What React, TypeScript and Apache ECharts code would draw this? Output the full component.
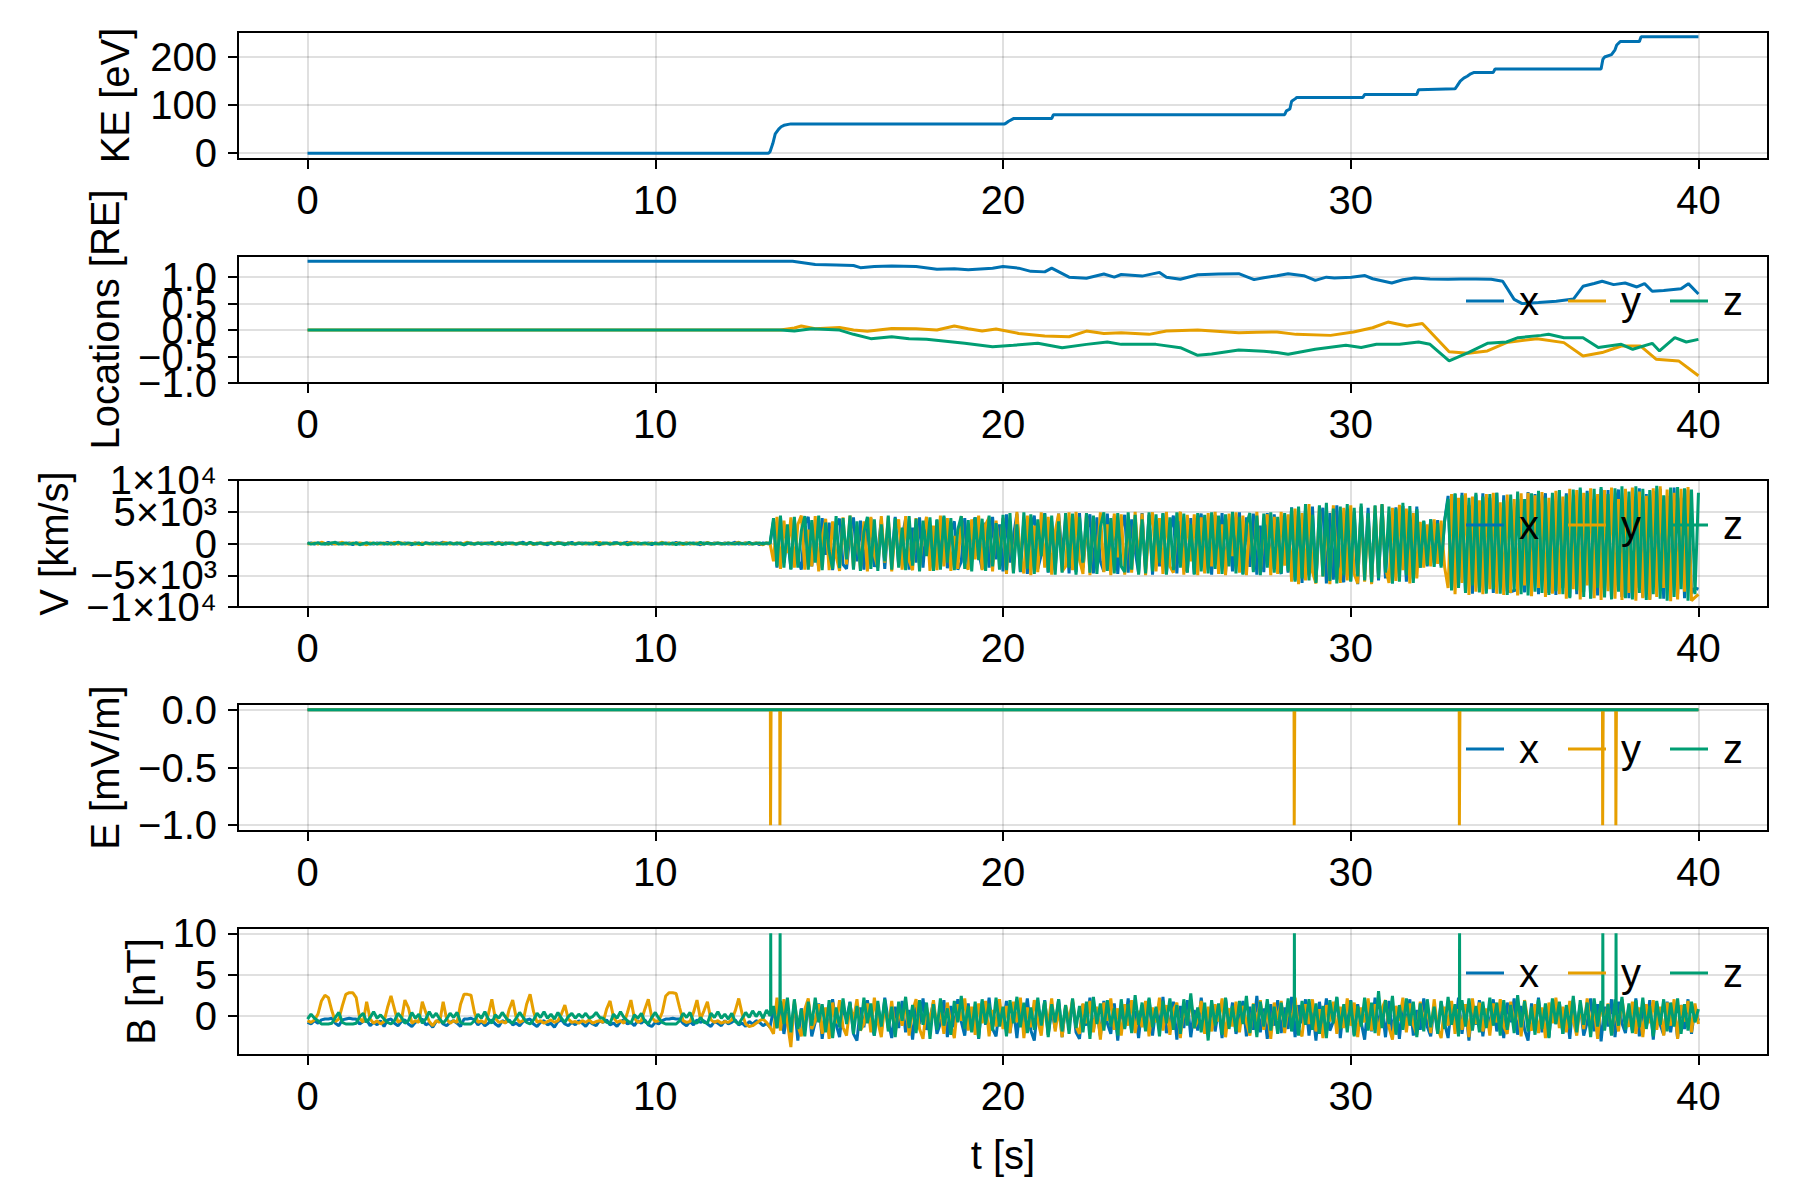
import { useEffect, useRef } from 'react';
import * as echarts from 'echarts';

const FONT = 'Liberation Sans';
const BLUE = '#0072b2';
const ORANGE = '#e69f00';
const GREEN = '#009e73';

// time axis
const T_TICKS = [0, 10, 20, 30, 40];
const T_MIN = -2;
const T_MAX = 42;
const DT = 0.1; // sampling step of the V and B traces [s]

// kinetic energy [eV] (step trace)
const KE_T = [0, 13.25, 13.3, 13.38, 13.45, 13.55, 13.62, 13.7, 13.9, 20.05, 20.1, 20.15, 20.3, 21.4, 21.45, 28.1, 28.15, 28.25, 28.3, 28.4, 28.45, 30.35, 30.4, 31.9, 31.95, 33.0, 33.05, 33.15, 33.25, 33.35, 33.45, 33.55, 34.1, 34.15, 37.2, 37.25, 37.3, 37.5, 37.6, 37.65, 37.75, 38.3, 38.35, 40];
const KE_V = [0, 0, 3, 20, 40, 50, 55, 58, 61, 61, 63, 66, 72, 72, 80, 80, 88, 92, 108, 113, 116, 116, 122, 122, 132, 134, 139, 150, 156, 160, 165, 168, 168, 175, 175, 195, 200, 205, 215, 225, 232, 232, 242, 242];

// locations [RE] as [t, value]
const LOC_X = [[0, 1.3], [13.95, 1.3], [14.6, 1.24], [15.2, 1.23], [15.7, 1.22], [15.9, 1.18], [16.3, 1.2], [16.8, 1.21], [17.5, 1.2], [18.1, 1.15], [18.6, 1.16], [19.0, 1.14], [19.7, 1.17], [20.0, 1.2], [20.45, 1.17], [20.8, 1.11], [21.2, 1.1], [21.4, 1.17], [21.9, 1.0], [22.4, 0.98], [22.9, 1.06], [23.2, 1.0], [23.4, 1.05], [24.0, 1.02], [24.5, 1.09], [24.7, 1.0], [25.1, 0.96], [25.6, 1.047], [26.2, 1.06], [26.78, 1.066], [27.22, 0.953], [27.5, 0.99], [27.88, 1.028], [28.2, 1.066], [28.65, 1.028], [28.98, 0.94], [29.3, 1.0], [29.53, 0.984], [30.02, 1.0], [30.41, 1.03], [30.63, 0.97], [31.18, 0.89], [31.5, 0.95], [31.84, 0.984], [32.28, 0.965], [32.8, 0.96], [33.16, 0.965], [33.6, 0.965], [34.04, 0.96], [34.37, 0.922], [34.7, 0.58], [34.93, 0.5], [35.4, 0.52], [35.91, 0.545], [36.41, 0.589], [36.68, 0.827], [37.0, 0.88], [37.23, 0.922], [37.56, 0.859], [37.89, 0.89], [38.23, 0.815], [38.45, 0.877], [38.67, 0.733], [39.0, 0.75], [39.21, 0.764], [39.5, 0.78], [39.71, 0.877], [40.0, 0.683]];
const LOC_Y = [[0, 0], [13.6, 0], [14.0, 0.04], [14.2, 0.076], [14.6, 0.026], [15.3, 0.05], [15.7, 0.0], [16.1, -0.02], [16.8, 0.03], [17.5, 0.026], [18.1, 0.0], [18.6, 0.076], [19.0, 0.026], [19.4, -0.019], [19.8, 0.02], [20.45, -0.063], [21.2, -0.112], [21.9, -0.125], [22.4, -0.019], [22.9, -0.063], [23.4, -0.05], [24.2, -0.081], [24.7, -0.019], [25.6, 0.0], [26.78, -0.05], [27.3, -0.04], [27.88, -0.037], [28.43, -0.081], [29.42, -0.1], [30.08, -0.037], [30.63, 0.044], [31.07, 0.151], [31.62, 0.076], [32.06, 0.126], [32.83, -0.41], [33.38, -0.438], [33.93, -0.394], [34.48, -0.237], [35.36, -0.162], [36.13, -0.237], [36.68, -0.488], [37.23, -0.425], [37.78, -0.3], [38.33, -0.3], [38.78, -0.55], [39.43, -0.582], [40.0, -0.864]];
const LOC_Z = [[0, 0], [13.6, 0], [14.0, -0.019], [14.5, 0.026], [15.3, 0.0], [15.7, -0.08], [16.2, -0.162], [16.8, -0.124], [17.3, -0.162], [17.8, -0.175], [18.9, -0.25], [19.7, -0.313], [20.3, -0.288], [21.0, -0.25], [21.7, -0.332], [22.4, -0.27], [23.0, -0.225], [23.4, -0.27], [24.4, -0.27], [25.1, -0.332], [25.6, -0.476], [26.0, -0.45], [26.78, -0.375], [27.5, -0.4], [27.88, -0.425], [28.2, -0.457], [28.98, -0.363], [29.86, -0.287], [30.3, -0.33], [30.74, -0.268], [31.4, -0.268], [31.95, -0.225], [32.28, -0.268], [32.83, -0.582], [33.38, -0.425], [33.93, -0.25], [34.48, -0.225], [34.81, -0.144], [35.47, -0.1], [35.69, -0.08], [36.13, -0.144], [36.68, -0.144], [37.12, -0.33], [37.78, -0.268], [38.11, -0.363], [38.67, -0.25], [38.88, -0.394], [39.32, -0.144], [39.65, -0.225], [40.0, -0.175]];

// velocity [100 km/s], one value every DT from t = 0, 20 values (2 s) per row
const V_X = [
  0, 1, -1, 1, 0, -1, 2, -1, 0, 1, -1, 0, 1, -2, 1, 0, -1, 1, 0, -1,
  1, 0, -1, 2, -1, 0, 1, -1, 1, 0, -2, 1, 0, -1, 1, 0, 1, -1, 0, 2,
  -1, 1, 0, -1, 1, -2, 0, 1, -1, 0, 1, 0, -1, 2, -1, 0, 1, -1, 1, 0,
  -1, 0, 2, -1, 1, 0, -1, 1, 0, -2, 1, -1, 0, 1, 0, -1, 2, -1, 0, 1,
  0, -1, 1, 0, -2, 1, 0, -1, 1, 1, -1, 0, 2, -1, 0, 1, -1, 0, 1, -2,
  1, 0, -1, 1, 0, -1, 2, -1, 0, 1, -1, 1, 0, -2, 1, 0, -1, 1, 0, -1,
  1, -1, 0, 2, -1, 0, 1, -1, 0, 1, -2, 1, 0, -1, 35, -38, 41, -30, 12, -40,
  38, -25, -41, 30, 42, -36, 8, -39, 40, -18, 33, -42, 27, 39, -33, -40, 15, 41, -28, 36,
  -41, 22, 40, -37, -12, 38, -40, 31, -26, 42, -35, 10, 39, -41, 25, -30, 41, -38, 34, -8,
  -40, 37, -22, 42, -39, 18, 35, -41, -29, 40, -36, 28, 41, -14, -40, 33, -38, 42, -25, 30,
  -44, 46, -30, 12, 47, -45, 38, -48, 25, 44, -40, -18, 48, -46, 35, -42, 47, -20, 40, -47,
  30, -45, 48, -38, 16, 46, -47, 41, -28, -44, 47, -35, 43, -48, 22, 45, -46, 38, -12, -47,
  48, -40, 45, -49, 30, -36, 47, -48, 20, 44, -47, 49, -33, -45, 40, -48, 26, 47, -42, 36,
  -49, 45, -25, 48, -46, 38, -44, 15, 49, -48, 41, -37, 47, -49, 28, -45, 48, -40, 46, -30,
  -48, 44, -46, 57, -58, 40, -62, 55, -50, 58, -60, 32, 56, -63, 48, -57, 60, -44, -61, 54,
  -59, 50, -64, 58, -40, 56, -62, 45, -58, 60, -55, 38, -63, 57, -48, 59, -60, 30, -56, 58,
  -38, 35, -36, 38, -30, 37, -35, 36, 75, -72, 78, -68, 80, -76, 60, -79, 77, -70, 79, -75,
  72, -78, 80, -60, 76, -75, -76, -74, -73, 70, -77, 81, -70, 78, -80, 55, 79, -78, 74, -81,
  82, -70, 79, -84, 65, -80, 85, -76, 83, -86, 70, -82, 86, -75, 84, -87, 60, 85, -84, 80,
  -86, 84, -70, 87, -85, 78, -88, 83, -60, 86, -87, 75, -84, 88, -80, 72, -86, 85, -78, -70,
  -72,
];
const V_Y = [
  -1, 0, 1, -1, 2, 0, -1, 1, -1, 0, 2, -1, 0, 1, -1, 1, 0, -2, 1, 0,
  0, -1, 1, 0, -1, 2, -1, 1, 0, -1, 0, 1, -2, 1, 0, -1, 1, 0, -1, 1,
  1, -1, 0, 1, -1, 0, 2, -1, 0, 1, -1, 1, 0, -1, 0, 2, -1, 1, 0, -1,
  0, 1, -1, 0, 1, -2, 1, 0, -1, 1, 0, -1, 2, 0, -1, 1, -1, 0, 1, 0,
  -1, 1, 0, -1, 2, -1, 0, 1, -1, 0, 1, -1, 0, 2, -1, 1, 0, -1, 0, 1,
  -1, 0, 2, -1, 1, -1, 0, 1, -2, 1, 0, -1, 1, 0, -1, 2, -1, 0, 1, -1,
  0, 1, -1, 0, 2, -1, 1, 0, -1, 1, 0, -2, 1, 0, -28, 42, -40, 36, -15, 41,
  -38, 30, 44, -41, 22, -36, 43, -44, 10, 39, -42, 35, -20, -43, 41, -33, 44, -38, 26, -40,
  35, -44, 42, -18, -38, 43, -30, 41, -44, 20, 38, -41, 43, -27, -42, 40, -35, 15, 42, -43,
  28, -42, 44, -36, 40, -43, 12, -40, 43, -32, -41, 38, -25, 44, -42, 30, 41, -44, 36, -20,
  40, -48, 35, -46, 50, -20, -47, 44, -50, 28, -45, 49, -38, 42, -49, 18, 47, -44, -36, 49,
  -42, 50, -26, -48, 46, -50, 40, -33, 49, -45, 30, -50, 47, -22, 46, -49, 38, -46, 50, -30,
  47, -50, 22, 49, -44, 40, -48, 50, -36, -46, 32, 50, -49, 45, -28, 46, -50, 41, -47, 48,
  -36, 50, -48, 30, -50, 47, -20, 49, -46, 44, -50, 35, -42, 50, -47, 25, 46, -50, 42, -48,
  50, -35, 46, -60, 55, -64, 48, -58, 62, -45, -63, 59, -52, 40, -64, 60, -30, -62, 56, -58,
  60, -48, -63, 57, -60, 40, -64, 59, -50, 62, -38, -62, 56, -59, 61, -42, 55, -63, 48, -55,
  34, -38, 30, -36, 38, -32, 36, -37, -70, 78, -80, 72, -62, 79, -81, 74, -76, 68, -80, 78,
  -72, 80, -79, 65, -81, 77, -78, 70, -82, 79, -66, 80, -83, 76, -70, 81, -84, 72, -79, 83,
  -80, 74, -87, 86, -72, 84, -88, 80, -66, 87, -86, 78, -89, 84, -75, 88, -87, 70, -89, 86,
  -78, 88, -90, 82, -86, 75, -89, 87, -84, 90, -70, 85, -91, 80, -88, 86, -76, 89, -90, -85,
  -80,
];
const V_Z = [
  1, -1, 0, 1, -1, 0, -1, 1, 2, -1, 0, 1, -1, 0, 1, -2, 0, 1, -1, 1,
  -1, 1, 0, -1, 1, -1, 2, 0, -1, 1, 0, -1, 1, -2, 1, 0, -1, 1, 0, -1,
  0, 1, -1, 1, 0, -2, 1, 0, -1, 1, -1, 0, 1, 0, -1, 1, -2, 1, 0, 1,
  -1, 1, 0, -1, 2, -1, 0, 1, -1, 0, 1, -1, 1, 0, -2, 1, 0, -1, 1, -1,
  1, 0, -1, 2, -1, 0, 1, -1, 0, 1, -1, 1, -2, 0, 1, -1, 0, 1, -1, 0,
  0, -1, 1, 0, -1, 1, -2, 1, 0, -1, 1, 0, -1, 2, -1, 1, 0, -1, 1, 0,
  -1, 1, 0, -1, 1, 0, -1, 2, -1, 0, 1, -1, 1, 0, 40, -36, 44, -38, 30, -41,
  42, -38, 20, 43, -41, 37, -30, 44, -42, 33, -12, -40, 43, -39, 40, -25, 44, -41, 35, -43,
  18, 42, -40, 38, -43, 30, -28, 44, -41, 40, -38, 25, -42, 43, -35, 39, -44, 36, -20, 41,
  -43, 38, -41, 44, -30, 40, -42, 22, 43, -40, 37, -44, 41, -26, 39, -43, 44, -36, 32, -41,
  45, -42, 48, -47, 30, -44, 49, -40, 46, -48, 38, -20, 47, -45, 44, -49, 35, -46, 48, -38,
  47, -49, 42, -30, 48, -46, 44, -48, 26, 49, -43, 40, -47, 48, -36, -45, 49, -41, 45, -49,
  38, -47, 49, -44, 46, -30, 48, -49, 41, -42, 49, -38, 47, -46, 30, -49, 48, -44, 45, -47,
  49, -40, 44, -48, 46, -36, 50, -47, 42, -49, 30, 48, -45, 44, -50, 47, -38, 49, -46, 42,
  -47, 48, -44, 56, -60, 58, -55, 62, -58, 45, -62, 60, -52, 64, -59, 55, -63, 58, -50, 62,
  -60, 56, -52, 63, -58, 48, -61, 60, -55, 62, -46, 58, -63, 55, -60, 64, -50, 59, -62, 54,
  -38, 36, -34, 38, -37, 32, -38, 35, 70, -74, 79, -70, 76, -78, 72, -66, 80, -77, 74, -79,
  78, -72, 80, -79, 68, -81, 77, -74, 82, -80, 70, -82, 79, -76, 83, -78, 72, -81, 80, -75,
  84, -80, 76, -86, 85, -74, 88, -84, 80, -87, 86, -70, 89, -85, 78, -88, 87, -76, 90, -86,
  82, -88, 90, -78, 86, -89, 84, -80, 91, -87, 76, -90, 88, -84, 89, -72, 87, -90, 85, -80,
  80,
];

// electric field [mV/m] as [t, value]
const E_X = [[0, 0], [40, 0]];
const E_Y = [[0, 0], [13.31, 0], [13.315, -1], [13.325, -1], [13.33, 0], [13.58, 0], [13.585, -1], [13.595, -1], [13.6, 0], [28.37, 0], [28.375, -1], [28.385, -1], [28.39, 0], [33.12, 0], [33.125, -1], [33.135, -1], [33.14, 0], [37.24, 0], [37.245, -1], [37.255, -1], [37.26, 0], [37.62, 0], [37.625, -1], [37.635, -1], [37.64, 0], [40, 0]];
const E_Z = [[0, 0], [40, 0]];

// magnetic field [0.1 nT], one value every DT from t = 0, 20 values (2 s) per row
const B_X = [
  -8, -10, -6, -9, -5, -4, -4, -3, -9, -12, -5, -4, -3, -4, -4, -10, -7, -5, -12, -8,
  -11, -6, -13, -5, -4, -9, -12, -7, -5, -10, -13, -8, -6, -4, -11, -9, -14, -7, -5, -10,
  -12, -8, -6, -9, -13, -4, -4, -3, -5, -11, -7, -12, -9, -5, -10, -13, -6, -8, -5, -11,
  -9, -12, -7, -5, -4, -10, -13, -8, -6, -11, -9, -14, -7, -5, -10, -12, -8, -11, -6, -9,
  -13, -7, -10, -12, -6, -8, -5, -11, -9, -13, -7, -5, -10, -8, -12, -6, -9, -5, -11, -13,
  -8, -10, -6, -4, -4, -3, -4, -4, -9, -12, -7, -11, -5, -8, -6, -10, -13, -7, -9, -12,
  -6, -10, -8, -5, -11, -9, -13, -7, -10, -6, -8, -12, -9, -14, 8, -15, 12, -22, 5, -18,
  14, -30, 9, -12, 18, -25, -8, 15, -28, 6, -16, 20, -10, -26, 12, -5, 17, -22, -30, 10,
  -14, 19, -8, -24, 13, -18, 22, -6, -27, 11, -15, 18, -20, 7, -29, 14, -10, 21, -17, -3,
  16, -22, -9, 19, -26, 12, -14, 20, -7, -24, 15, -19, 8, -28, 17, -11, 22, -16, -25, 10,
  -12, 18, -21, 9, -27, 16, -8, 21, -18, -30, 13, -10, 19, -23, 6, -15, 20, -26, 11, -9,
  17, -20, -28, 14, -12, 22, -17, 8, -25, 18, -9, -22, 15, -30, 10, -14, 21, -19, 6, -27,
  13, -16, 20, -24, 9, -11, 23, -21, -8, 17, -29, 12, -15, 19, -26, 7, -18, 22, -10, -23,
  15, -19, 8, -27, 21, -13, 16, -22, -6, 18, -25, 11, -17, 24, -20, 9, -28, 14, -12, 19,
  -21, 10, -16, 23, -26, 13, -9, 20, -24, 8, -30, 17, -14, 21, -18, -7, 22, -27, 12, -11,
  19, -23, 14, -8, -29, 16, -19, 22, -12, 9, -26, 18, -21, 11, -28, 15, -10, 20, -24, 7,
  -17, 21, -13, -25, 12, -20, 17, -9, -27, 14, -16, 22, -22, 10, -30, 13, -11, 19, -25, 8,
  -14, 20, -19, 11, -27, 16, -8, 21, -23, 12, -17, -30, 15, -12, 22, -20, 9, -26, 18, -10,
  16, -22, 10, -28, 19, -15, 13, -24, -8, 21, -19, 14, -31, 11, -13, 20, -26, 17, -9, -21,
  12, -18, 21, -25, 8, -14, 19, -29, 15, -11, -23, 17, -20, 10, -27, 13, -16, 20, -22, 9,
  -6,
];
const B_Y = [
  -6, -8, -5, 2, 18, 25, 22, 6, -7, -4, 12, 26, 28, 28, 22, -3, -8, 17, -4, -9,
  -6, -10, -7, 10, 24, 8, -8, -5, 19, 10, -9, -6, -8, 17, 4, -7, -12, -6, -8, 17,
  -4, -9, -6, -8, 14, 26, 26, 25, 4, -8, -6, -9, 2, 20, -3, -8, -7, -9, 8, 19,
  -2, -8, -6, 14, 26, 5, -8, -6, -9, -7, -5, -8, -6, 2, 13, -4, -8, -7, -9, -6,
  -8, -5, -9, -7, -6, -8, 8, 18, -2, -8, -6, -9, 4, 19, -3, -8, -6, 8, 20, -2,
  -7, -6, 4, 24, 28, 28, 27, 10, -6, -8, -7, 4, 19, -4, 6, 17, -5, -8, -6, -9,
  -7, -8, -5, 6, 21, 2, -10, -13, -12, -9, -6, -4, -8, -14, -22, 22, -18, 20, -8, -38,
  18, -12, -25, 8, 21, -16, -6, 14, -22, 10, -28, 16, -9, 19, -14, -24, 12, -5, 20, -18,
  -10, 15, -20, 22, -7, -26, 13, -15, 18, -21, 9, -12, 17, -24, 6, 20, -16, -28, 11, -8,
  19, -14, 8, -22, 16, -10, -27, 14, -6, 21, -18, 11, -23, 15, -9, 18, -25, 7, -13, 20,
  -16, 12, -21, 17, -8, 22, -27, 10, -14, 19, -5, -24, 16, -11, 21, -19, 8, -26, 13, -7,
  20, -13, -22, 15, -9, 18, -20, 11, -29, 16, -6, 21, -17, 9, -24, 14, -12, 19, -21, 6,
  -14, 18, -25, 10, -8, 22, -18, 13, -23, 7, 16, -27, 12, -10, 20, -15, -6, 18, -22, 11,
  -19, 14, -7, 21, -26, 9, -13, 17, -20, 12, -8, -24, 15, -11, 19, -17, 10, -28, 16, -5,
  18, -21, 12, -9, 22, -16, -25, 14, -10, 20, -19, 8, -27, 13, -7, 17, -22, 11, -15, 21,
  -12, 16, -26, 10, -8, 21, -18, 14, -24, 9, 19, -14, -29, 12, -6, 22, -20, 15, -11, -23,
  17, -9, 13, -21, 20, -15, -27, 11, -12, 18, -22, 8, -17, 14, -26, 21, -10, 16, -19, 9,
  -24, 15, -8, 20, -13, -22, 17, -11, 12, -25, 19, -7, -18, 14, -21, 10, -27, 16, -9, 22,
  -15, 11, -20, 18, -6, -24, 13, -16, 21, -12, 9, -28, 17, -10, 15, -23, 12, -19, 20, -8,
  -13, 17, -22, 10, -26, 14, -9, 19, -17, 11, -24, 16, -12, 20, -28, 13, -7, 18, -20, 15,
  -10,
];
const B_Z = [
  -4, 2, -3, -6, -10, -10, -10, -9, -2, 4, -8, -10, -10, -10, -9, -1, 3, -8, -2, 5,
  -3, 1, -4, -8, -10, -6, 3, -2, -9, -6, 4, -3, 2, -9, -4, 5, -2, 3, -4, -9,
  -4, 3, -2, 4, -8, -10, -10, -10, -6, 2, -3, 5, -4, -9, 1, -3, 4, -2, -7, -9,
  -3, 4, -2, -8, -10, -5, 3, -2, 5, -3, 2, -4, 4, -3, -8, -1, 3, -3, 2, -2,
  3, -3, -1, 4, -2, -3, -8, -9, 2, -3, 5, -2, -6, -9, 1, -3, 3, -7, -10, -2,
  4, -3, -8, -10, -10, -10, -10, -6, 3, -2, 4, -7, -9, -2, -8, -9, 3, -2, 5, -3,
  2, -4, 3, -7, -10, -3, 4, -2, 6, -1, 5, -3, 7, 0, 12, -15, 18, -10, 22, -20,
  20, -16, 8, -25, 17, -12, 22, -8, 14, -20, 19, -27, 10, -14, 21, -10, 16, -22, 12, -18,
  22, -9, 15, -24, 18, -13, 20, -19, 11, -26, 17, -6, 23, -15, 13, -21, 19, -11, 16, -28,
  14, -17, 21, -12, 9, -23, 18, -8, 24, -16, 12, -20, 17, -27, 20, -10, 15, -18, 22, -13,
  11, -25, 19, -9, 23, -14, 16, -21, 10, -17, 22, -12, 18, -26, 14, -8, 20, -19, 13, -22,
  21, -15, 12, -20, 17, -28, 23, -10, 15, -18, 19, -13, 9, -24, 20, -16, 14, -21, 25, -11,
  16, -19, 22, -14, 11, -25, 18, -9, 21, -17, 13, -22, 20, -12, 27, -15, 10, -20, 16, -30,
  19, -12, 15, -23, 22, -16, 12, -19, 18, -10, 24, -21, 14, -26, 17, -13, 20, -18, 11, -22,
  16, -14, 21, -19, 13, -24, 18, -11, 20, -17, 15, -22, 12, -27, 19, -9, 23, -16, 14, -20,
  18, -25, 12, -13, 22, -18, 16, -21, 30, -15, 19, -10, 24, -23, 13, -17, 21, -12, 17, -26,
  15, -19, 20, -14, 11, -22, 18, -16, 23, -11, 14, -25, 19, -13, 21, -18, 12, -20, 17, -15,
  22, -12, 16, -24, 19, -17, 13, -21, 25, -14, 18, -19, 11, -23, 20, -16, 15, -27, 21, -10,
  17, -22, 13, -15, 24, -20, 19, -11, 16, -26, 21, -13, 18, -18, 14, -24, 20, -12, 23, -17,
  15, -21, 19, -14, 22, -16, 12, -25, 18, -11, 20, -19, 16, -13, 21, -22, 14, -18, 17, -8,
  8,
];
// narrow spikes of B_z [t, nT]
const B_Z_SPIKES = [[13.315, 0.1], [13.32, 10], [13.325, 0.1], [13.585, 1.5], [13.59, 10], [13.595, 1.5], [28.375, 0.5], [28.38, 10], [28.385, 0.5], [33.125, 0.5], [33.13, 10], [33.135, 0.5], [37.245, 0.5], [37.25, 10], [37.255, 0.5], [37.625, 0.5], [37.63, 10], [37.635, 0.5]];

const GRID_LEFT = 238;
const GRID_WIDTH = 1530;
const GRID_HEIGHT = 127;
const GRID_TOPS = [32, 256, 480, 704, 928];

const minus = (s: string) => s.replace('-', '\u2212');

// ticks: tick marks; labels: labels of the main axis; more: labels put on an extra
// label-only axis of the same panel (so the crowded labels are all drawn, as in the original)
const PANELS = [
  { name: 'KE [eV]', min: -12, max: 252, ticks: [0, 100, 200], labels: [0, 100, 200], more: [], gap: 103, fmt: (v: number) => String(v) },
  { name: 'Locations [RE]', min: -1.0, max: 1.4, ticks: [-1, -0.5, 0, 0.5, 1], labels: [-1, 0, 1], more: [-0.5, 0.5], gap: 113, fmt: (v: number) => minus(v.toFixed(1)) },
  {
    name: 'V [km/s]', min: -10000, max: 10000, ticks: [-10000, -5000, 0, 5000, 10000], labels: [-10000, 0, 10000], more: [-5000, 5000], gap: 164,
    fmt: (v: number) => ({ 10000: '1×10⁴', 5000: '5×10³', 0: '0', '-5000': '\u22125×10³', '-10000': '\u22121×10⁴' } as any)[v],
  },
  { name: 'E [mV/m]', min: -1.05, max: 0.05, ticks: [-1, -0.5, 0], labels: [-1, -0.5, 0], more: [], gap: 113, fmt: (v: number) => minus(v.toFixed(1)) },
  { name: 'B [nT]', min: -4.76, max: 10.65, ticks: [0, 5, 10], labels: [0, 5, 10], more: [], gap: 77, fmt: (v: number) => String(v) },
];

const sampled = (vals: number[], scale: number) => vals.map((v, i) => [Math.round(i * DT * 10) / 10, v * scale]);

function line(name: string, color: string, data: number[][], idx: number) {
  return {
    type: 'line', name, data, xAxisIndex: idx, yAxisIndex: idx,
    symbol: 'none', showSymbol: false, silent: true, clip: true,
    lineStyle: { color, width: 3 }, itemStyle: { color },
  };
}

export default function App() {
  const ref = useRef<HTMLDivElement>(null);

  useEffect(() => {
    document.body.style.margin = '0';
    if (!ref.current) return;
    const chart = echarts.init(ref.current, null, { renderer: 'svg' });

    const txt = { fontFamily: FONT, fontSize: 40, color: '#000' };
    const gridLine = { show: true, lineStyle: { color: 'rgba(0,0,0,0.12)', width: 2 } };
    const tick = (vals: number[]) => ({ show: true, inside: false, length: 10, customValues: vals, lineStyle: { color: '#000', width: 2 } });

    const bz = [...sampled(B_Z, 0.1), ...B_Z_SPIKES].sort((a, b) => a[0] - b[0]);

    const mainY = PANELS.map((p, i) => ({
      type: 'value', gridIndex: i, min: p.min, max: p.max, position: 'left',
      axisLine: { show: false, onZero: false },
      axisTick: tick(p.ticks),
      axisLabel: { ...txt, customValues: p.labels, margin: 21, formatter: p.fmt, showMinLabel: true, showMaxLabel: true },
      splitLine: gridLine,
      name: p.name, nameLocation: 'middle', nameRotate: 90, nameGap: p.gap, nameTextStyle: txt,
    }));
    const extraY = PANELS.map((p, i) => ({ p, i })).filter(({ p }) => p.more.length).map(({ p, i }) => ({
      type: 'value', gridIndex: i, min: p.min, max: p.max, position: 'left', offset: 0,
      axisLine: { show: false, onZero: false },
      axisTick: { show: false },
      splitLine: { show: false },
      axisLabel: { ...txt, customValues: p.more, margin: 21, formatter: p.fmt, showMinLabel: true, showMaxLabel: true },
    }));

    const option: any = {
      animation: false,
      backgroundColor: '#fff',
      textStyle: { fontFamily: FONT },
      grid: GRID_TOPS.map(top => ({
        left: GRID_LEFT, top, width: GRID_WIDTH, height: GRID_HEIGHT,
        show: true, borderColor: '#000', borderWidth: 2, backgroundColor: 'transparent',
      })),
      xAxis: GRID_TOPS.map((_, i) => ({
        type: 'value', gridIndex: i, min: T_MIN, max: T_MAX, position: 'bottom',
        axisLine: { show: false, onZero: false },
        axisTick: tick(T_TICKS),
        axisLabel: { ...txt, customValues: T_TICKS, margin: 21, showMinLabel: true, showMaxLabel: true },
        splitLine: gridLine,
        name: i === 4 ? 't [s]' : '',
        nameLocation: 'middle', nameGap: 80, nameTextStyle: txt,
      })),
      yAxis: [...mainY, ...extraY],
      legend: [1, 2, 3, 4].map(i => ({
        data: ['x', 'y', 'z'],
        left: 1466, top: GRID_TOPS[i] + 25,
        orient: 'horizontal', icon: 'rect', itemWidth: 38, itemHeight: 3, itemGap: 29,
        padding: 0, selectedMode: false,
        textStyle: { ...txt, padding: [0, 0, 0, 10] },
      })),
      series: [
        line('KE', BLUE, KE_T.map((t, i) => [t, KE_V[i]]), 0),
        line('x', BLUE, LOC_X, 1),
        line('y', ORANGE, LOC_Y, 1),
        line('z', GREEN, LOC_Z, 1),
        line('x', BLUE, sampled(V_X, 100), 2),
        line('y', ORANGE, sampled(V_Y, 100), 2),
        line('z', GREEN, sampled(V_Z, 100), 2),
        line('x', BLUE, E_X, 3),
        line('y', ORANGE, E_Y, 3),
        line('z', GREEN, E_Z, 3),
        line('x', BLUE, sampled(B_X, 0.1), 4),
        line('y', ORANGE, sampled(B_Y, 0.1), 4),
        line('z', GREEN, bz, 4),
      ],
    };

    chart.setOption(option);
    return () => chart.dispose();
  }, []);

  return <div ref={ref} style={{ width: 1800, height: 1200 }} />;
}
